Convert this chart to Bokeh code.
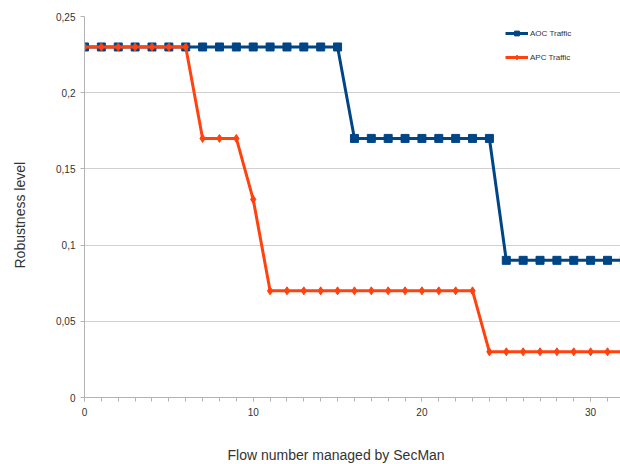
from bokeh.plotting import figure
from bokeh.models import FixedTicker, Range1d, Legend, LegendItem, Title, LinearAxis
from bokeh.embed import file_html
from bokeh.resources import INLINE

flows = list(range(0, 33))
aoc = [0.23] * 16 + [0.17] * 9 + [0.09] * 8
apc = [0.23] * 7 + [0.17] * 3 + [0.13] + [0.07] * 13 + [0.03] * 9
y_ticks = [0, 0.05, 0.1, 0.15, 0.2, 0.25]
y_tick_labels = ["0", "0,05", "0,1", "0,15", "0,2", "0,25"]
x_ticks = [0, 10, 20, 30]
x_title = "Flow number managed by SecMan"
y_title = "Robustness level"

BLUE = "#004586"
ORANGE = "#ff420e"
FONT = "Liberation Sans"

p = figure(width=620, height=464, output_backend="svg", toolbar_location=None,
           x_range=Range1d(0, 31.77), y_range=Range1d(0, 0.25))
p.min_border_left = 84
p.min_border_right = 0
p.min_border_top = 16
p.min_border_bottom = 67
p.outline_line_color = None

r1 = p.line(flows, aoc, line_color=BLUE, line_width=3)
s1 = p.scatter(flows, aoc, marker="square", size=8, fill_color=BLUE, line_color=BLUE)
r2 = p.line(flows, apc, line_color=ORANGE, line_width=3)
s2 = p.scatter(flows, apc, marker="diamond", size=8, fill_color=ORANGE, line_color=ORANGE)

p.xgrid.grid_line_color = None
p.ygrid.grid_line_color = "#d0d0d0"
p.ygrid.grid_line_width = 1

p.yaxis.ticker = FixedTicker(ticks=y_ticks)
p.yaxis.major_label_overrides = {t: l for t, l in zip(y_ticks, y_tick_labels)}
p.xaxis.ticker = FixedTicker(ticks=x_ticks, minor_ticks=flows)

for ax in (p.xaxis[0], p.yaxis[0]):
    ax.axis_line_color = "#b3b3b3"
    ax.major_tick_line_color = "#b3b3b3"
    ax.minor_tick_line_color = "#b3b3b3"
    ax.major_tick_in = 0
    ax.major_tick_out = 4
    ax.minor_tick_in = 0
    ax.minor_tick_out = 4
    ax.major_label_text_font = FONT
    ax.major_label_text_font_size = "10px"
    ax.major_label_text_color = "#333333"

p.yaxis.minor_tick_out = 0
p.yaxis.major_label_standoff = 5
p.xaxis.major_label_standoff = 6


def spacer(px):
    # invisible axis used only to push the side title outwards
    a = LinearAxis(ticker=FixedTicker(ticks=[0]))
    a.axis_line_color = None
    a.major_tick_line_color = None
    a.minor_tick_line_color = None
    a.major_tick_in = 0
    a.major_tick_out = px
    a.minor_tick_in = 0
    a.minor_tick_out = 0
    a.major_label_standoff = 0
    a.major_label_overrides = {0: ""}
    a.major_label_text_font_size = "1px"
    return a


p.add_layout(spacer(26), "below")
p.add_layout(spacer(26), "left")

# axis titles, placed as side titles so they can be shifted like the original
xt = Title(text=x_title, align="left", offset=143, standoff=0,
           text_font=FONT, text_font_size="14px", text_font_style="normal",
           text_color="#333333")
yt = Title(text=y_title, align="left", offset=129, standoff=0,
           text_font=FONT, text_font_size="14px", text_font_style="normal",
           text_color="#333333")
p.add_layout(xt, "below")
p.add_layout(yt, "left")

legend = Legend(items=[LegendItem(label="AOC Traffic", renderers=[r1, s1]),
                       LegendItem(label="APC Traffic", renderers=[r2, s2])],
                location=(421, 334))
legend.border_line_color = None
legend.background_fill_alpha = 0
legend.padding = 0
legend.margin = 0
legend.spacing = 12
legend.glyph_width = 23
legend.glyph_height = 12
legend.label_height = 12
legend.label_standoff = 2
legend.label_text_font = FONT
legend.label_text_font_size = "8px"
legend.label_text_color = "#333333"
p.add_layout(legend)

open("out.html", "w").write(file_html(p, INLINE))
